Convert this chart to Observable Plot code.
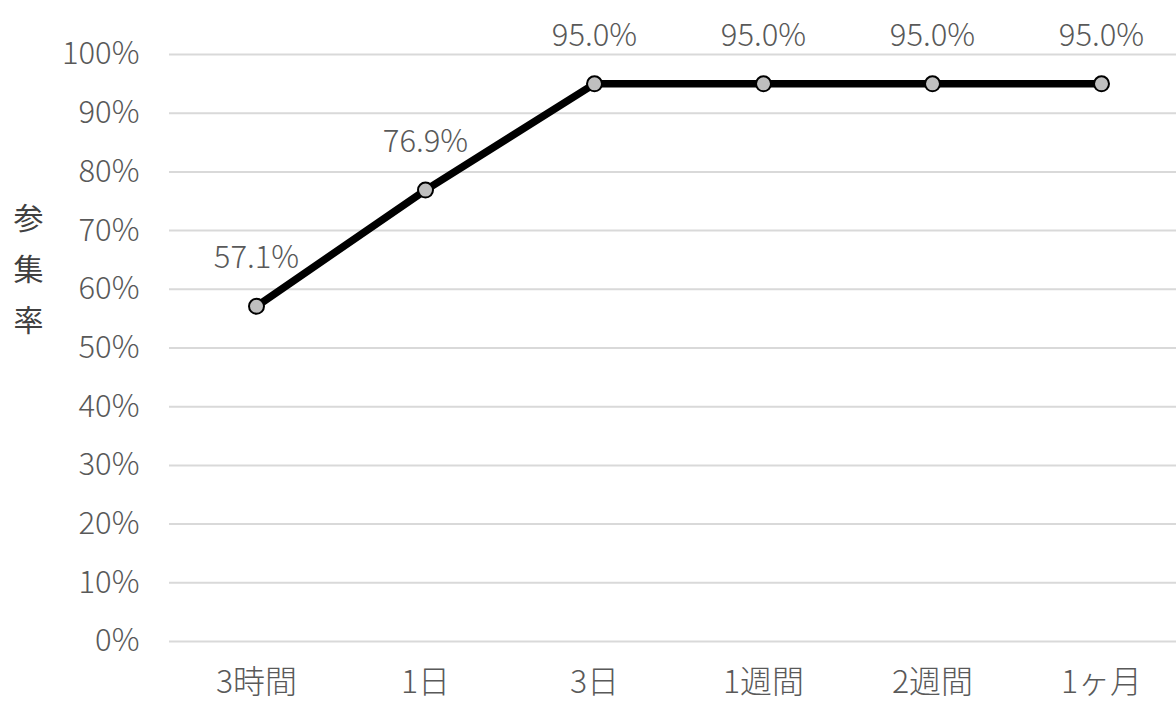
<!DOCTYPE html>
<html>
<head>
<meta charset="utf-8">
<script src="https://cdn.jsdelivr.net/npm/d3@7"></script>
<script src="https://cdn.jsdelivr.net/npm/@observablehq/plot@0.6"></script>
<style>
  html, body { margin: 0; padding: 0; background: #fff; }
  #chart svg { display: block; }
</style>
</head>
<body>
<div id="chart"></div>
<script>
const categories = ["3時間", "1日", "3日", "1週間", "2週間", "1ヶ月"];
const rates = [0.571, 0.769, 0.95, 0.95, 0.95, 0.95];
const yTicks = [0, 0.1, 0.2, 0.3, 0.4, 0.5, 0.6, 0.7, 0.8, 0.9, 1.0];
const yTitle = "参集率";

const data = categories.map((c, i) => ({cat: c, rate: rates[i]}));
const font = "'Noto Sans CJK JP', 'Noto Sans', sans-serif";

const chart = Plot.plot({
  width: 1176,
  height: 703,
  marginLeft: 169,
  marginRight: 0,
  marginTop: 54,
  marginBottom: 62,
  style: {fontFamily: font, fontSize: "30px", color: "#595959", background: "#fff", fontWeight: 300},
  x: {type: "point", domain: categories, range: [254, 1103], padding: 0},
  y: {domain: [0, 1]},
  marks: [
    Plot.ruleY(yTicks, {stroke: "#d9d9d9", strokeWidth: 2}),
    Plot.axisY({ticks: yTicks, tickFormat: d3.format(".0%"), label: null, tickSize: 0, tickPadding: 30, fill: "#595959", fontSize: 31, fontWeight: 300}),
    Plot.axisX({label: null, tickSize: 0, tickPadding: 29, fill: "#595959", fontSize: 32, fontWeight: 300}),
    Plot.line(data, {x: "cat", y: "rate", stroke: "#000", strokeWidth: 7.5, strokeLinejoin: "round"}),
    Plot.dot(data, {x: "cat", y: "rate", r: 7.5, fill: "#bfbfbf", stroke: "#000", strokeWidth: 2}),
    Plot.text(data, {x: "cat", y: "rate", text: d => d3.format(".1%")(d.rate), dy: -48, fill: "#595959", fontSize: 31, fontWeight: 300}),
    Plot.text([yTitle], {text: d => d.split("").join("\n"), frameAnchor: "left", textAnchor: "middle", dx: -141, dy: -84, lineHeight: 1.7, fill: "#404040", fontSize: 30, fontWeight: 400})
  ]
});
document.getElementById("chart").append(chart);
</script>
</body>
</html>
